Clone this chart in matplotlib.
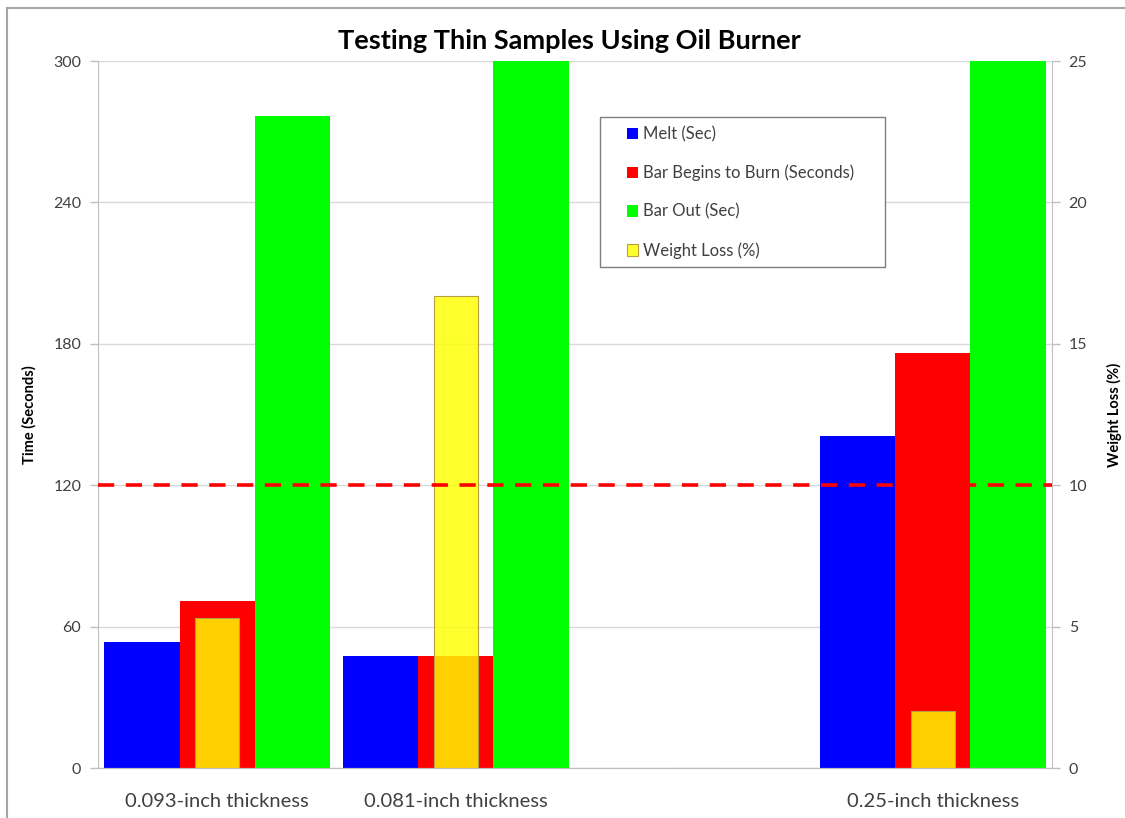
import matplotlib
matplotlib.use("Agg")
import matplotlib.pyplot as plt
from matplotlib.patches import Rectangle
import numpy as np

# Data
categories = ["0.093-inch thickness", "0.081-inch thickness", "", "0.25-inch thickness"]
melt_sec = [53.5, 47.5, 0, 141]
burn_sec = [71, 47.5, 0, 176]
bar_out_sec = [276.5, 300, 0, 300]
weight_loss_pct = [5.3, 16.7, 0, 2.0]

time_ticks = [0, 60, 120, 180, 240, 300]
weight_ticks = [0, 5, 10, 15, 20, 25]
threshold_sec = 120

plt.rcParams["font.family"] = ["Lato", "DejaVu Sans"]

W, H = 1125, 818
fig = plt.figure(figsize=(W / 100, H / 100), dpi=100)
ax = fig.add_axes([0.0871, 0.0611, 0.8480, 0.8643])
ax2 = ax.twinx()

x = np.arange(len(categories))
w = 0.316
wy = 0.184

ax.bar(x - w, melt_sec, w, color="#0000FF", label="Melt (Sec)", zorder=2)
ax.bar(x, burn_sec, w, color="#FF0000", label="Bar Begins to Burn (Seconds)", zorder=2)
ax.bar(x + w, bar_out_sec, w, color="#00FF00", label="Bar Out (Sec)", zorder=2)
ax2.bar(x, weight_loss_pct, wy, color=(1, 1, 0, 0.82), edgecolor="#B8A040",
        linewidth=0.8, label="Weight Loss (%)", zorder=2)

ax.set_xlim(-0.5, len(categories) - 0.5)
ax.set_ylim(0, 300)
ax2.set_ylim(0, 25)
ax.set_yticks(time_ticks)
ax2.set_yticks(weight_ticks)
ax.set_xticks(x)
ax.set_xticklabels(categories)

ax.yaxis.grid(True, color="#D9D9D9", linewidth=1.0, zorder=0)
ax.set_axisbelow(True)

# threshold line drawn over all bars
ax2.axhline(threshold_sec / 300 * 25, color="#FF0000", linestyle=(0, (4.5, 3.2)),
            linewidth=2.6, zorder=10)

for a in (ax, ax2):
    a.spines["top"].set_visible(False)
    a.spines["left"].set_color("#BFBFBF")
    a.spines["right"].set_color("#BFBFBF")
    a.spines["bottom"].set_color("#BFBFBF")
ax.spines["right"].set_visible(False)
ax2.spines["left"].set_visible(False)

ax.tick_params(axis="y", colors="#BFBFBF", labelcolor="#404040", labelsize=11.5,
               length=6, width=1, pad=6)
ax2.tick_params(axis="y", colors="#BFBFBF", labelcolor="#404040", labelsize=11.5,
                length=6, width=1, pad=6)
ax.tick_params(axis="x", length=0, labelcolor="#404040", labelsize=14.5, pad=18)

ax.set_ylabel("Time (Seconds)", fontsize=10.5, fontweight="bold", color="#000000", labelpad=12)
ax2.set_ylabel("Weight Loss (%)", fontsize=10.5, fontweight="bold", color="#000000",
               rotation=90, labelpad=14)

fig.text(0.506, 0.950, "Testing Thin Samples Using Oil Burner", ha="center", va="center",
         fontsize=19.5, fontweight="bold", color="#000000")

# legend entries without their own frame, boxed separately
h1, l1 = ax.get_legend_handles_labels()
h2, l2 = ax2.get_legend_handles_labels()
leg = fig.legend(h1 + h2, l1 + l2, loc="upper left",
                 bbox_to_anchor=(622 / W, 1 - 121 / H),
                 fontsize=12, frameon=False,
                 handlelength=0.65, handleheight=0.65, handletextpad=0.3,
                 labelspacing=1.35, borderpad=0.3, borderaxespad=0)
leg.set_zorder(21)
for t in leg.get_texts():
    t.set_color("#404040")
fig.patches.append(Rectangle((600 / W, 1 - 267 / H), 285 / W, 150 / H,
                             transform=fig.transFigure, facecolor="white",
                             edgecolor="#7F7F7F", linewidth=1.0, zorder=20))

# chart border
fig.patches.append(Rectangle((7 / W, -0.05), 1.5, 1 - 8 / H + 0.05,
                             transform=fig.transFigure, fill=False,
                             edgecolor="#A6A6A6", linewidth=1.5))

fig.savefig("out.png", dpi=100)
